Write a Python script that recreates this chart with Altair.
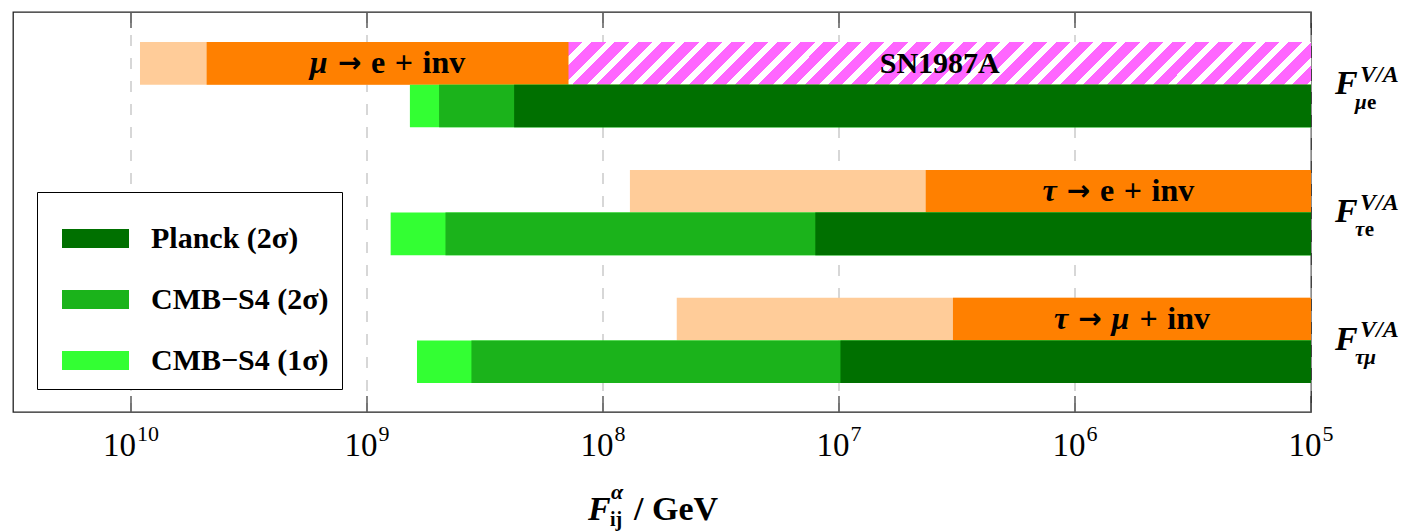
import math
import altair as alt
import pandas as pd

# ---------------- data ----------------
row_labels = ["μe", "τe", "τμ"]
kinds = ["Planck (2σ)", "CMB−S4 (2σ)", "CMB−S4 (1σ)"]
planck_2s = [2.38e8, 1.26e7, 9.86e6]
s4_2s = [4.95e8, 4.65e8, 3.61e8]
s4_1s = [6.58e8, 7.94e8, 6.14e8]
decay_names = ["μ → e + inv", "τ → e + inv", "τ → μ + inv"]
decay_now = [4.78e9, 4.29e6, 3.29e6]       # dark orange
decay_future = [9.16e9, 7.69e7, 4.87e7]    # light orange
sn1987a_bound = 1.40e8
f_low = 1e5
f_high = 10 ** 10.5
tick_values = [1e10, 1e9, 1e8, 1e7, 1e6, 1e5]
tick_exponents = ["10", "9", "8", "7", "6", "5"]

# ---------------- styling ----------------
FONT = "Liberation Serif"
ARROW_FONT = "DejaVu Sans"
W, H = 1298, 400
C_PLANCK, C_S42, C_S41 = "#007000", "#1bb31b", "#33ff33"
C_ORANGE, C_PEACH, C_MAGENTA = "#ff8000", "#ffcc99", "#ff66ff"

xs = alt.Scale(type="log", domain=[f_low, f_high], reverse=True, nice=False)
ys = alt.Scale(domain=[-0.704, 8.68], reverse=True, nice=False, zero=False)
y_axis = alt.Axis(orient="right", values=list(range(9)), labels=False, ticks=True,
                  tickSize=16, tickColor="#333333", tickWidth=1.2, domain=False,
                  grid=False, title=None)

W_UP = {'e': 0.444, '+': 0.57, 'i': 0.278, 'n': 0.556, 'v': 0.5}
W_IT = {'μ': 0.576, 'τ': 0.46}
GREEK = set("αμτσ")
SPACE_EM = 0.3


def layout(label, size, arrow_size):
    """split a label into words / greek runs and give each its left offset (px)"""
    x, pieces = 0.0, []
    for w_i, word in enumerate(label.split(" ")):
        if w_i > 0:
            x += SPACE_EM * size
        if word == "→":
            pieces.append((x, word, "arrow"))
            x += 0.838 * arrow_size
            continue
        cur, cur_g = "", None
        runs = []
        for ch in word:
            g = ch in GREEK
            if cur_g is None or g == cur_g:
                cur += ch
                cur_g = g
            else:
                runs.append((cur, cur_g))
                cur, cur_g = ch, g
        runs.append((cur, cur_g))
        for txt, g in runs:
            pieces.append((x, txt, "greek" if g else "text"))
            table = W_IT if g else W_UP
            x += sum(table.get(c, 0.5) for c in txt) * size
    return pieces, x


layers = []

# grid + inward ticks
tick_df = pd.DataFrame({"v": tick_values, "base": ["10"] * len(tick_values), "exp": tick_exponents})
layers.append(alt.Chart(tick_df).mark_rule(strokeDash=[11, 12], color="#bdbdbd", strokeWidth=1.2)
              .encode(x=alt.X("v:Q", scale=xs, axis=None), y=alt.value(0), y2=alt.value(H)))
layers.append(alt.Chart(tick_df).mark_rule(color="#333333", strokeWidth=1.2)
              .encode(x=alt.X("v:Q", scale=xs, axis=None), y=alt.value(0), y2=alt.value(16)))
layers.append(alt.Chart(tick_df).mark_rule(color="#333333", strokeWidth=1.2)
              .encode(x=alt.X("v:Q", scale=xs, axis=None), y=alt.value(H - 16), y2=alt.value(H)))

# orange (lepton decay) bars
orange_rows = []
for i in range(3):
    orange_rows.append({"lo": decay_future[i], "hi": f_low, "y0": 3 * i, "y1": 3 * i + 1, "c": "future"})
for i in range(3):
    orange_rows.append({"lo": decay_now[i], "hi": f_low, "y0": 3 * i, "y1": 3 * i + 1, "c": "now"})
orange_df = pd.DataFrame(orange_rows)
layers.append(alt.Chart(orange_df).mark_rect().encode(
    x=alt.X("lo:Q", scale=xs, axis=None), x2="hi:Q",
    y=alt.Y("y0:Q", scale=ys, axis=y_axis), y2="y1:Q",
    fill=alt.Fill("c:N", scale=alt.Scale(domain=["future", "now"], range=[C_PEACH, C_ORANGE]), legend=None)))

# SN1987A hatched bar
n_per = 34
stops = []
for k in range(n_per):
    a, b = k / n_per, (k + 0.62) / n_per
    c = (k + 1) / n_per
    stops += [alt.GradientStop(color=C_MAGENTA, offset=a), alt.GradientStop(color=C_MAGENTA, offset=b),
              alt.GradientStop(color="#ffffff", offset=b), alt.GradientStop(color="#ffffff", offset=c)]
hatch = alt.LinearGradient(gradient="linear", stops=stops, x1=0, y1=0, x2=1.06, y2=1.06 * 0.05737)
sn_df = pd.DataFrame({"lo": [sn1987a_bound], "hi": [f_low], "y0": [0], "y1": [1]})
layers.append(alt.Chart(sn_df).mark_rect(fill=hatch).encode(
    x=alt.X("lo:Q", scale=xs, axis=None), x2="hi:Q",
    y=alt.Y("y0:Q", scale=ys, axis=y_axis), y2="y1:Q"))

# green (CMB) bars
green_rows = []
for i in range(3):
    for kind, arr in [(kinds[2], s4_1s), (kinds[1], s4_2s), (kinds[0], planck_2s)]:
        green_rows.append({"kind": kind, "lo": arr[i], "hi": f_low, "y0": 3 * i + 1, "y1": 3 * i + 2})
green_df = pd.DataFrame(green_rows)
legend = alt.Legend(title=None, orient="none", legendX=24, legendY=180, direction="vertical",
                    symbolType="M-1,-0.284L1,-0.284L1,0.284L-1,0.284Z", symbolSize=4489,
                    symbolStrokeWidth=0, labelFont=FONT, labelFontSize=30, labelFontWeight="bold",
                    labelColor="black", labelOffset=22, rowPadding=12, padding=13, symbolOffset=12,
                    strokeColor="black", fillColor="white", labelLimit=500)
layers.append(alt.Chart(green_df).mark_rect().encode(
    x=alt.X("lo:Q", scale=xs, axis=None), x2="hi:Q",
    y=alt.Y("y0:Q", scale=ys, axis=y_axis), y2="y1:Q",
    color=alt.Color("kind:N", scale=alt.Scale(domain=kinds, range=[C_PLANCK, C_S42, C_S41]), legend=legend)))

# bar labels (greek italic, arrow, upright words)
BAR_FS, ARROW_FS = 32, 28
ends = [sn1987a_bound, f_low, f_low]
for i, name in enumerate(decay_names):
    center = math.sqrt(decay_now[i] * ends[i])
    d = pd.DataFrame({"x": [center], "y": [3 * i + 0.73]})
    pieces, total = layout(name, BAR_FS, ARROW_FS)
    for off, txt, kind in pieces:
        if kind == "arrow":
            props = dict(font=ARROW_FONT, fontSize=ARROW_FS, fontWeight="bold", dy=-1)
        elif kind == "greek":
            props = dict(font=FONT, fontSize=BAR_FS, fontWeight="bold", fontStyle="italic")
        else:
            props = dict(font=FONT, fontSize=BAR_FS, fontWeight="bold")
        layers.append(alt.Chart(d).mark_text(
            align="left", baseline="alphabetic", dx=off - total / 2, color="black", **props).encode(
            x=alt.X("x:Q", scale=xs, axis=None), y=alt.Y("y:Q", scale=ys, axis=None),
            text=alt.value(txt)))
sn_center = math.sqrt(sn1987a_bound * f_low)
layers.append(alt.Chart(pd.DataFrame({"x": [sn_center], "y": [0.73], "t": ["SN1987A"]})).mark_text(
    align="center", baseline="alphabetic", font=FONT, fontSize=30, fontWeight="bold", color="black").encode(
    x=alt.X("x:Q", scale=xs, axis=None), y=alt.Y("y:Q", scale=ys, axis=None), text="t:N"))

# x tick labels 10^n
BASE_FS, EXP_FS = 33, 22
for i in range(len(tick_values)):
    d = tick_df.iloc[[i]]
    bw = 2 * 0.5 * BASE_FS
    ew = len(tick_exponents[i]) * 0.5 * EXP_FS
    tot = bw + ew + 1
    layers.append(alt.Chart(d).mark_text(align="left", baseline="alphabetic", dx=-tot / 2, font=FONT,
                                         fontSize=BASE_FS, color="black").encode(
        x=alt.X("v:Q", scale=xs, axis=None), y=alt.value(H + 44), text="base:N"))
    layers.append(alt.Chart(d).mark_text(align="left", baseline="alphabetic", dx=-tot / 2 + bw + 1, font=FONT,
                                         fontSize=EXP_FS, color="black").encode(
        x=alt.X("v:Q", scale=xs, axis=None), y=alt.value(H + 29), text="exp:N"))

# right-hand row labels F^{V/A}_{ij}
SUB_FS = 21
for i, sub in enumerate(row_labels):
    d = pd.DataFrame({"yF": [3 * i + 1.23], "yS": [3 * i + 0.93], "yB": [3 * i + 1.56]})
    layers.append(alt.Chart(d).mark_text(align="left", baseline="alphabetic", font=FONT, fontSize=34,
                                         fontWeight="bold", fontStyle="italic", color="black").encode(
        x=alt.value(W + 24), y=alt.Y("yF:Q", scale=ys, axis=None), text=alt.value("F")))
    layers.append(alt.Chart(d).mark_text(align="left", baseline="alphabetic", font=FONT, fontSize=24,
                                         fontWeight="bold", fontStyle="italic", color="black").encode(
        x=alt.value(W + 49), y=alt.Y("yS:Q", scale=ys, axis=None), text=alt.value("V/A")))
    pieces, total = layout(sub, SUB_FS, SUB_FS)
    for off, txt, kind in pieces:
        layers.append(alt.Chart(d).mark_text(align="left", baseline="alphabetic", font=FONT, fontSize=SUB_FS,
                                             fontWeight="bold",
                                             fontStyle="italic" if kind == "greek" else "normal",
                                             color="black").encode(
            x=alt.value(W + 44 + off), y=alt.Y("yB:Q", scale=ys, axis=None), text=alt.value(txt)))

# x axis title  F^alpha_ij / GeV
title_parts = [("F", 575, H + 108, 34, "italic"), ("α", 598, H + 87, 22, "italic"),
               ("ij", 597, H + 114, 20, "normal"), ("/ GeV", 621, H + 108, 34, "normal")]
for txt, px, py, fs, st in title_parts:
    layers.append(alt.Chart(pd.DataFrame({"t": [txt]})).mark_text(
        align="left", baseline="alphabetic", font=FONT, fontSize=fs, fontWeight="bold",
        fontStyle=st, color="black").encode(x=alt.value(px), y=alt.value(py), text="t:N"))

chart = alt.layer(*layers).properties(
    width=W, height=H,
    autosize=alt.AutoSizeParams(type="none"),
    padding={"left": 5, "top": 4, "right": 90, "bottom": 125},
    background="white",
).resolve_scale(fill="independent", color="independent").configure_view(
    stroke="#222222", strokeWidth=1.3
)

chart.save("out.html", embed_options={"renderer": "svg", "actions": False})
